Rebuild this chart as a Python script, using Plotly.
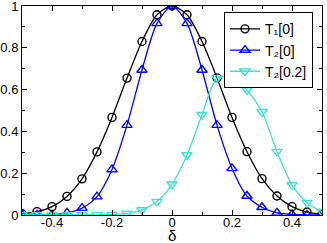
import plotly.graph_objects as go

delta = [-0.5, -0.45, -0.4, -0.35, -0.3, -0.25, -0.2, -0.15, -0.1, -0.05, 0.0,
         0.05, 0.1, 0.15, 0.2, 0.25, 0.3, 0.35, 0.4, 0.45, 0.5]

t1_0 = [0.006, 0.016, 0.040, 0.089, 0.173, 0.302, 0.467, 0.655, 0.830, 0.958, 1.000,
        0.958, 0.830, 0.656, 0.467, 0.303, 0.174, 0.091, 0.040, 0.014, 0.005]

t2_0 = [0.000, 0.000, 0.001, 0.010, 0.033, 0.088, 0.218, 0.430, 0.694, 0.917, 1.000,
        0.917, 0.694, 0.430, 0.223, 0.091, 0.037, 0.010, 0.003, 0.001, 0.000]

t2_02 = [0.000, 0.000, 0.000, 0.000, 0.000, 0.001, 0.002, 0.008, 0.024, 0.064, 0.147,
         0.287, 0.480, 0.655, 0.660, 0.598, 0.494, 0.303, 0.144, 0.059, 0.016]

names = ["T₁[0]", "T₂[0]", "T₂[0.2]"]
colors = ["#000000", "#0000ff", "#40e0d0"]
symbols = ["circle-open", "triangle-up-open", "triangle-down-open"]
sizes = [8, 9, 9]

xtick_vals = [-0.4, -0.2, 0, 0.2, 0.4]
xtick_text = ["-0.4", "-0.2", "0", "0.2", "0.4"]
ytick_vals = [0, 0.2, 0.4, 0.6, 0.8, 1]
ytick_text = ["0", "0.2", "0.4", "0.6", "0.8", "1"]
x_label = "δ"

fig = go.Figure()
for ys, nm, c, s, sz in zip([t1_0, t2_0, t2_02], names, colors, symbols, sizes):
    fig.add_trace(go.Scatter(
        x=delta, y=ys, name=nm, mode="lines+markers",
        line=dict(color=c, width=1.3, shape="spline", smoothing=0.8),
        marker=dict(symbol=s, size=sz, color=c, line=dict(width=1.4, color=c)),
    ))

axis_common = dict(
    showline=True, linecolor="black", linewidth=1, mirror="allticks",
    ticks="inside", ticklen=5, tickwidth=1, tickcolor="black",
    showgrid=False, zeroline=False, automargin=False,
    ticklabeloverflow="allow",
    tickfont=dict(family="Liberation Sans, Arial, sans-serif", size=13, color="black"),
    minor=dict(ticks="inside", ticklen=3, tickwidth=1, tickcolor="black", dtick=0.1, showgrid=False),
)

fig.update_layout(
    width=327, height=243,
    margin=dict(l=22, r=5, t=6, b=28),
    paper_bgcolor="white", plot_bgcolor="white",
    font=dict(family="Liberation Sans, Arial, sans-serif", color="black"),
    xaxis=dict(range=[-0.5, 0.5], tickvals=xtick_vals, ticktext=xtick_text,
               ticklabelstandoff=-5, **axis_common),
    yaxis=dict(range=[0, 1], tickvals=ytick_vals, ticktext=ytick_text,
               ticklabelstandoff=0, **axis_common),
    legend=dict(x=0.97, y=0.97, xanchor="right", yanchor="top",
                bgcolor="white", bordercolor="black", borderwidth=1,
                font=dict(size=14), itemwidth=30, tracegroupgap=0),
    showlegend=True,
    annotations=[dict(text=x_label, xref="paper", yref="paper", x=0.5, y=0,
                      yshift=-20, xanchor="center", yanchor="middle",
                      showarrow=False, font=dict(size=15, color="black"))],
)

fig.write_html("out.html", config={"displayModeBar": False},
               post_script="document.body.style.margin='0';document.body.style.overflow='hidden';")
